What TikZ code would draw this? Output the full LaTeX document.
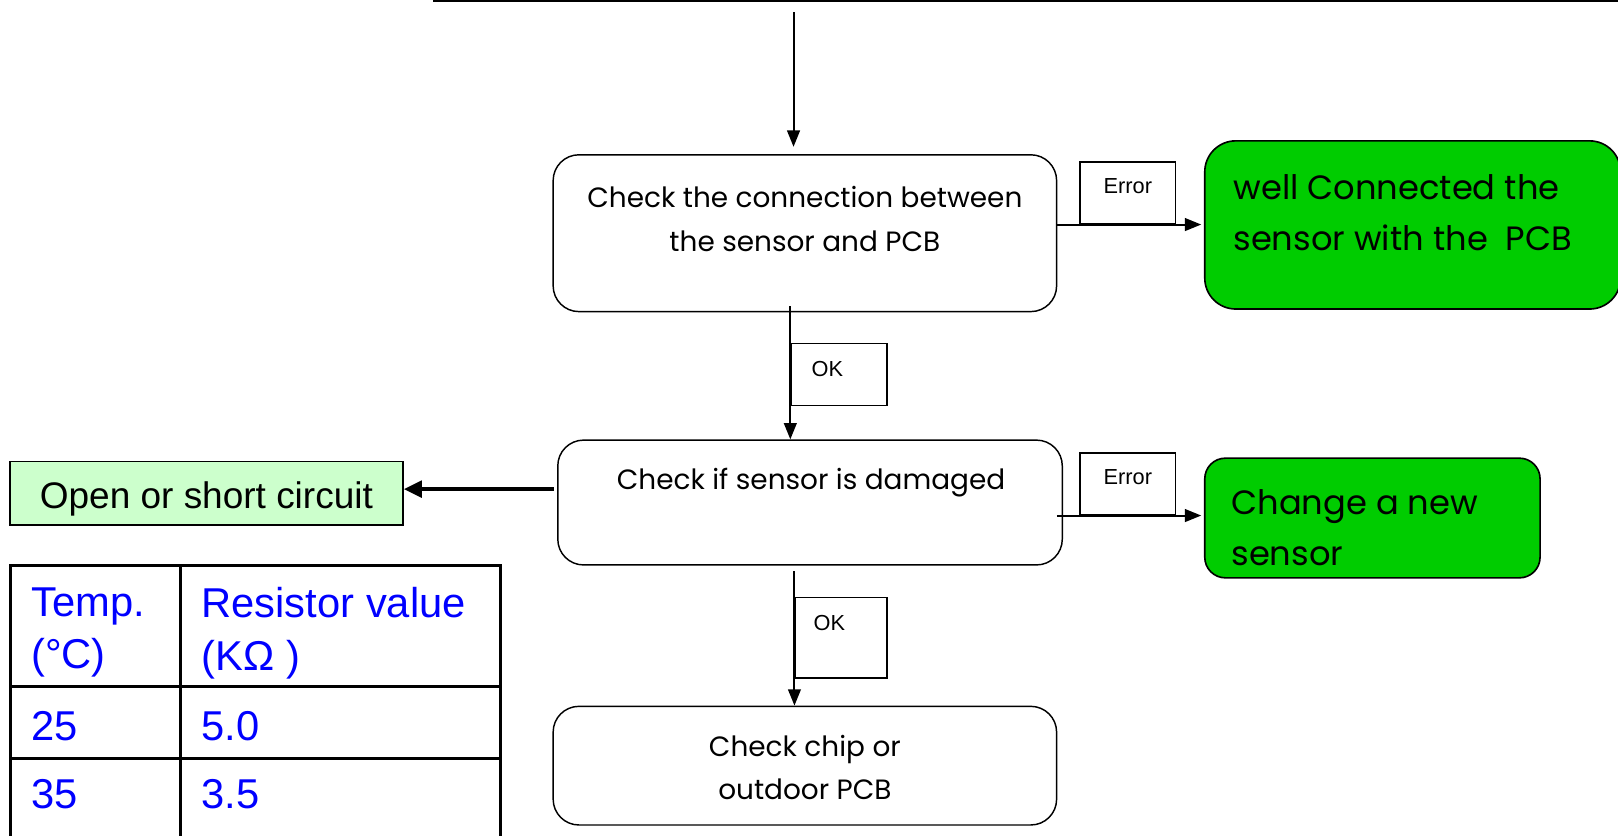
\documentclass[tikz,border=0pt]{standalone}
\usepackage{fontspec}
\setmainfont{Poppins}
\newfontfamily\arialfont{Liberation Sans}
\usetikzlibrary{positioning,arrows.meta}
\definecolor{fixgreen}{RGB}{0,204,0}
\definecolor{palegreen}{RGB}{204,255,204}
\definecolor{tblue}{RGB}{0,0,255}

\tikzset{
  stepbox/.style={draw, rounded corners=0.5cm, line width=0.8pt, inner sep=0pt},
  fixbox/.style={draw, fill=fixgreen, line width=0.9pt, inner sep=0pt},
  tagbox/.style={draw, line width=0.7pt, inner xsep=0pt, inner ysep=0pt, font=\arialfont\fontsize{12}{14}\selectfont},
  boxtext/.style={align=center, inner sep=0pt, font=\fontsize{15.4}{24}\selectfont},
  fixtext/.style={align=left, anchor=west, inner sep=0pt, font=\fontsize{18.6}{28}\selectfont},
  celltext/.style={align=left, anchor=north west, inner sep=0pt, text=tblue, font=\arialfont\fontsize{23}{29}\selectfont},
  flow/.style={-{Triangle[length=9pt,width=7pt]}, line width=1.1pt},
  tableline/.style={line width=1.6pt}
}

\begin{document}
\begin{tikzpicture}[x=0.02cm, y=-0.02cm]
\useasboundingbox (0,0) rectangle (1568,810);
\clip (0,0) rectangle (1568,810);

% Top rule and entry
\draw [line width=1.1pt] (420,1) -- (1568,1);
\coordinate (entry) at (769,12);

% Checks
\node [stepbox, minimum width=9.76cm, minimum height=3.04cm] at (780,226) (conn) {};
\node [boxtext] at (780,212) (conntxt) {Check the connection between\\the sensor and PCB};
\node [stepbox, minimum width=9.78cm, minimum height=2.42cm] at (785,487) (damaged) {};
\node [boxtext] at (786,468) (damagedtxt) {Check if sensor is damaged};
\node [stepbox, minimum width=9.76cm, minimum height=2.3cm] at (780,742) (chip) {};
\node [boxtext] at (780,744) (chiptxt) {Check chip or\\outdoor PCB};

% Fixes
\node [fixbox, rounded corners=0.6cm, minimum width=8.06cm, minimum height=3.26cm] at (1369,218) (reconnect) {};
\node [fixtext] at (1195,206) (reconnecttxt) {well Connected the\\sensor with the~~PCB};
\node [fixbox, rounded corners=0.4cm, minimum width=6.5cm, minimum height=2.32cm] at (1330,502) (newsensor) {};
\node [fixtext] at (1193,511) (newsensortxt) {Change a new\\sensor};
\node [draw, fill=palegreen, line width=0.8pt, minimum width=7.62cm, minimum height=1.24cm,
  text height=0.58cm, text depth=0cm,
  font=\arialfont\fontsize{20.4}{24}\selectfont] at (200,478) (open) {Open or short circuit};

% Branch tags
\node [tagbox, minimum width=1.86cm, text height=0.62cm, text depth=0.58cm] at (1093,187) (err1) {Error};
\node [tagbox, minimum width=1.86cm, text height=0.62cm, text depth=0.58cm] at (1093,469) (err2) {Error};
\node [tagbox, inner xsep=0.4cm, text width=1.06cm, align=left, text height=0.64cm, text depth=0.56cm] at (813,363) (ok1) {OK};
\node [tagbox, inner xsep=0.36cm, text width=1.06cm, align=left, text height=0.64cm, text depth=0.92cm] at (815,618) (ok2) {OK};

% Connections
\draw [flow, shorten >=4pt] (entry) -- (entry |- conn.north);
\draw [flow, shorten >=1.5pt] (conn.east |- err1.south) -- (reconnect.west |- err1.south);
\draw [flow] (ok1.west |- conn.south) ++(0,-6) -- (ok1.west |- damaged.north);
\draw [flow, shorten >=1.5pt] (damaged.east |- err2.south) ++(-6,0) -- (newsensor.west |- err2.south);
\draw [flow, shorten <=3pt] (ok2.west |- damaged.south) -- (ok2.west |- chip.north);
\draw [-{Triangle[length=10pt,width=9pt]}, line width=2.3pt] (damaged.west |- open.east) ++(-3,-4) -- (open.east |- 0,474);

% Resistance table
\draw [tableline] (10,548) rectangle (485,840);
\draw [tableline] (175,548) -- (175,840);
\draw [tableline] (10,665) -- (485,665);
\draw [tableline] (10,735) -- (485,735);
\node [celltext] at (30,569) (temphead) {Temp.\\(°C)};
\node [celltext] at (195,569) (reshead) {Resistor value\\(KΩ )};
\node [celltext] at (30,689) (temp1) {25};
\node [celltext] at (195,689) (res1) {5.0};
\node [celltext] at (30,755) (temp2) {35};
\node [celltext] at (195,755) (res2) {3.5};
\end{tikzpicture}
\end{document}
